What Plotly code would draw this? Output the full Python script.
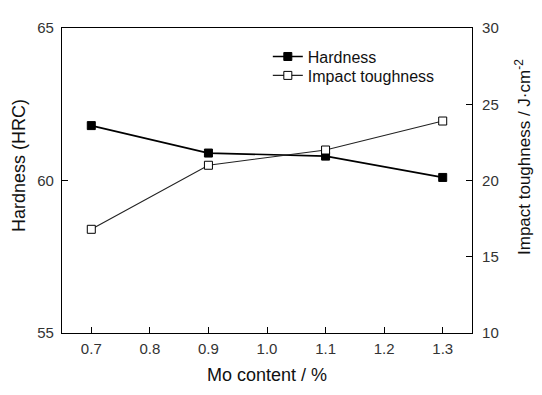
import plotly.graph_objects as go

mo_content = [0.7, 0.9, 1.1, 1.3]
hardness = [61.8, 60.9, 60.8, 60.1]
impact = [16.8, 21.0, 22.0, 23.9]
x_ticks = [0.7, 0.8, 0.9, 1.0, 1.1, 1.2, 1.3]

FONT = "Liberation Sans, Arial, sans-serif"

fig = go.Figure()
fig.add_trace(go.Scatter(
    x=mo_content, y=hardness, name="Hardness", mode="lines+markers", legend="legend",
    line=dict(color="black", width=1.7),
    marker=dict(symbol="square", size=8, color="black", line=dict(color="black", width=1)),
))
fig.add_trace(go.Scatter(
    x=mo_content, y=impact, name="Impact toughness", mode="lines+markers", yaxis="y2",
    legend="legend2",
    line=dict(color="#222", width=1.1),
    marker=dict(symbol="square", size=8, color="white", line=dict(color="black", width=1)),
))

axis_common = dict(showline=True, linecolor="black", linewidth=1.2, ticks="inside",
                   ticklen=6, tickcolor="black", showgrid=False, zeroline=False,
                   tickfont=dict(family=FONT, size=15, color="#333"))

legend_common = dict(xanchor="left", yanchor="top", bgcolor="rgba(0,0,0,0)",
                     font=dict(family=FONT, size=16, color="#111"))

fig.update_layout(
    width=542, height=395,
    margin=dict(l=62, r=70, t=28, b=62, autoexpand=False),
    paper_bgcolor="white", plot_bgcolor="white",
    font=dict(family=FONT, color="black"),
    xaxis=dict(range=[0.65, 1.35], tickvals=x_ticks, ticktext=[f"{v:.1f}" for v in x_ticks],
               mirror=True, ticklabelstandoff=2,
               title=dict(text="Mo content / %", font=dict(size=18, color="#111"), standoff=12),
               **axis_common),
    yaxis=dict(range=[55, 65], tickvals=[55, 60, 65], ticklabelstandoff=4, **axis_common),
    yaxis2=dict(range=[10, 30], tickvals=[10, 15, 20, 25, 30], overlaying="y", side="right",
                ticklabelstandoff=6, **axis_common),
    legend=dict(x=0.502, y=0.962, **legend_common),
    legend2=dict(x=0.502, y=0.9, **legend_common),
    showlegend=True,
    annotations=[
        dict(text="Hardness (HRC)", xref="paper", yref="paper", x=-62 / 410 + 19 / 410,
             y=(333 - 166) / 305, textangle=-90, showarrow=False,
             font=dict(family=FONT, size=18, color="#111"), xanchor="center", yanchor="middle"),
        dict(text="Impact toughness / J·cm<sup>-2</sup>", xref="paper", yref="paper",
             x=(523 - 62) / 410, y=(333 - 157) / 305, textangle=-90, showarrow=False,
             font=dict(family=FONT, size=17, color="#111"), xanchor="center", yanchor="middle"),
    ],
)

fig.write_html("out.html", post_script="document.body.style.margin='0';",
               config={"displayModeBar": False})
